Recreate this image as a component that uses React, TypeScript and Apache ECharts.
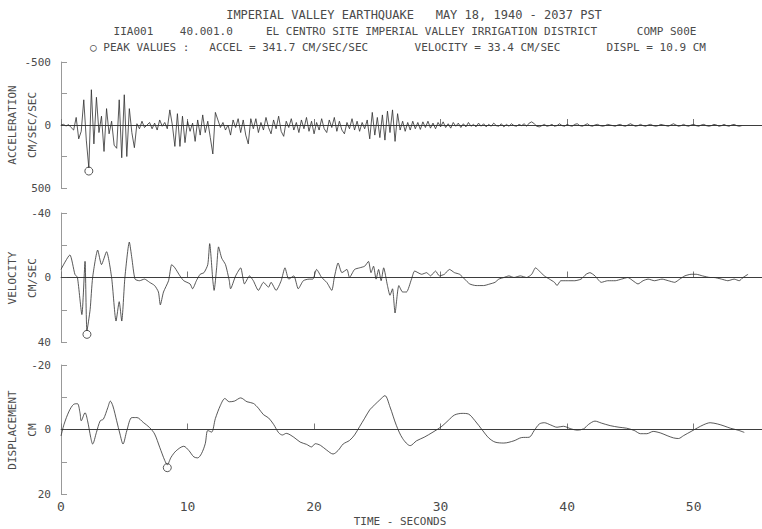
import { useEffect, useRef } from "react";
import * as echarts from "echarts";

// ---------- DATA ----------
const ACCEL_DT = 0.2; // seconds between acceleration readings
const accelValues = [
  0, -5, 8, -3, 20, 40, -60, 110, 50, -200,
  120, 340, -280, 150, -220, 60, -70, 210, -130, 70,
  -30, 160, 185, -200, 260, -240, 250, -130, 60, 180,
  -10, 30, -30, 20, 0, -20, 30, -15, 40, -40,
  10, -20, 30, -120, 0, 170, -90, 170, -70, 140,
  -30, 50, -15, 130, -40, 80, -80, 60, -30, 100,
  230, -100, -40, 20, -20, 40, 0, 80, -40, 20,
  -50, 60, -40, 80, 150, -50,
  30, -50, 60, -20, 40, -60, 20, 70, -40, 30,
  -70, 50, 90, -30, 20, -50, 40, -20, 60, -40,
  30, -60, 50, -30, 70, -20, 40, -50, 30, 60,
  -40, 20, -60, 50, -30, 40, 70, -20, 30, -50,
  40, -30, 50, -20, 30, -40, 110, -100, 80, -60,
  100, -80, 120, -110, 60, -120, 130, -90, 40, -30,
  50, -20, 40, -30, 30, -20, 35, -25, 20, -30,
  25, -15, 30, -20, 15, -25, 20, -10, 25, -20,
  10, -15, 20, -10, 15, -20, 10, -5, 15, -15,
  10, -10, 15, -5, 10, -15, 5, 10, -10, 15,
  -5, 10, -10, 5, 10, -5, 5, -10, 10, -15,
  -25, -10, 10, 15, 5, -5, 10, 5, -5, 10,
  5, -10, 5, 10, -5, 5, 10, -5, -10, 5,
  10, 0, -10, 5, 10, 0, -5, 5, 10, 5,
  -5, 0, 5, 10, 0, -5, 5, 10, 0, -10,
  0, 10, 5, -5, 5, 10, 0, -5, 5, 10,
  5, -5, 0, 5, 10, 0, -10, 0, 10, 5,
  -5, 5, 10, 0, -5, 5, 10, 0, -5, 5,
  10, 5, -5, 0, 10, 5, -5, 5, 10, 0,
  -5, 5, 10, 5,
];

const velTime = [
  0.0, 0.7, 1.1, 1.3, 1.65, 1.9, 2.05, 2.3, 2.5, 2.9,
  3.2, 3.6, 4.0, 4.35, 4.6, 4.8, 5.05, 5.4, 5.6, 5.85,
  6.2, 6.6, 7.0, 7.4, 7.7, 7.85, 8.1, 8.5, 8.75, 9.0,
  9.4, 9.7, 10.2, 10.4, 10.7, 11.0, 11.3, 11.6, 11.75, 12.0,
  12.1, 12.3, 12.45, 12.7, 13.0, 13.3, 13.4, 13.8, 14.2, 14.5,
  14.9, 15.2, 15.6, 16.0, 16.4, 16.6, 17.0, 17.4, 17.7, 18.0,
  18.4, 18.75, 19.15, 19.6, 19.9, 20.2, 20.6, 21.0, 21.4, 21.6,
  21.9, 22.2, 22.6, 22.8, 23.2, 23.6, 24.0, 24.3, 24.5, 24.7,
  24.9, 25.1, 25.3, 25.5, 25.8, 26.0, 26.2, 26.4, 26.7, 27.0,
  27.3, 27.7, 27.95, 28.5, 28.9, 29.2, 29.6, 29.9, 30.3, 30.7,
  31.1, 31.5, 31.9, 32.3, 32.8, 33.4, 33.9, 34.3, 34.6, 35.0,
  35.4, 35.8, 36.3, 36.8, 37.2, 37.5, 37.8, 38.2, 38.6, 39.0,
  39.2, 39.5, 40.0, 40.6, 41.1, 41.5, 41.8, 42.2, 42.7, 43.2,
  43.8, 44.3, 44.8, 45.2, 45.6, 46.0, 46.4, 46.9, 47.5, 48.0,
  48.5, 48.9, 49.3, 49.8, 50.2, 50.7, 51.3, 51.6, 52.2, 52.7,
  53.2, 53.6, 53.9, 54.3,
];
const velValues = [
  -5, -14, -2, 0, 23, -10, 33, 20, 0, -17,
  -8, -16, 0, 27, 15, 27, 0, -22, -12, 1,
  2, 1, 3, 5, 9, 17, 9, 2, -8, -6,
  -1, 2, 4, 7, 2, -2, -3, -8, -21, 2,
  8, -6, -19, -12, -8, 2, 7, -1, -6, 4,
  -1, 2, 8, 3, 6, 3, 8, 2, -6, 1,
  -1, 7, 2, 1, 1, -5, 0, 3, 8, 0,
  -9, -3, -5, 0, -5, -6, -7, -10, -3, -7,
  1, -5, 2, -6, 5, 11, 7, 22, 5, 9,
  9, 1, -4, -2, -3, -1, -4, -1, -2, -5,
  -3, -2, 1, 4, 5, 5, 4, 3, 1, 0,
  -1, 0, -1, 0, -2, -6, -4, -1, 1, 3,
  5, 2, 2, 2, 1, -2, -3, -1, 3, 2,
  2, 1, 0, 2, 4, 2, 1, 2, 1, 2,
  3, 1, -1, -2, -2, -1, 0, 0, 1, 2,
  1, 2, 0, -2,
];

const dispTime = [
  0.0, 0.24, 0.64, 1.0, 1.3, 1.5, 1.6, 1.9, 2.1, 2.35,
  2.5, 2.8, 3.1, 3.35, 3.7, 3.9, 4.1, 4.4, 4.66, 4.9,
  5.2, 5.6, 6.0, 6.5, 7.0, 7.4, 7.8, 8.2, 8.4, 8.7,
  9.1, 9.7, 10.1, 10.5, 10.8, 11.1, 11.4, 11.6, 11.9, 12.2,
  12.6, 12.95, 13.3, 13.7, 14.2, 14.7, 15.2, 15.6, 16.0, 16.4,
  16.8, 17.2, 17.5, 17.8, 18.4, 18.9, 19.4, 19.8, 20.1, 20.5,
  21.0, 21.5, 21.9, 22.3, 22.8, 23.2, 23.6, 24.0, 24.4, 24.8,
  25.2, 25.6, 26.0, 26.5, 27.0, 27.6, 28.1, 28.7, 29.4, 30.1,
  30.6, 31.1, 31.7, 32.2, 32.7, 33.3, 33.8, 34.3, 35.0, 35.8,
  36.4, 37.0, 37.4, 37.8, 38.2, 38.7, 39.2, 39.7, 40.3, 40.8,
  41.3, 41.7, 42.2, 42.7, 43.4, 44.1, 44.7, 45.3, 45.8, 46.3,
  46.8, 47.4, 47.9, 48.4, 48.8, 49.2, 49.8, 50.3, 50.8, 51.3,
  51.9, 52.4, 52.9, 53.5, 54.0,
];
const dispValues = [
  2, -1.6, -5.7, -7.8, -8, -5.2, -2.7, -5.2, -2.7, 2.5,
  4.5, 0.9, -2.7, -3.2, -6.8, -8.8, -7.3, -2.7, 1.4, 4.5,
  0.4, -3.7, -3.7, -2.2, -0.6, 1.4, 5.5, 9.6, 10.9, 8.6,
  6.6, 5.2, 6.5, 8.5, 8.8, 7.5, 4.4, 0.3, 0.8, -3.4,
  -7.5, -9.6, -8.6, -8.8, -9.8, -8.6, -8.1, -6.6, -4.6, -3.6,
  -1.6, 1.0, 1.7, 1.2, 2.4, 3.9, 4.6, 5.4, 4.4, 4.9,
  6.4, 7.6, 6.5, 4.5, 3.4, 1.7, -0.9, -3.5, -6.1, -7.7,
  -9.2, -10.5, -7, -1.3, 2.8, 5, 3.5, 2.4, 0.8, -1,
  -2.8, -4.5, -5, -4.8, -2.8, 0.2, 2.6, 3.9, 4.2, 3.5,
  2.5, 2.4, 0.3, -1.7, -2.1, -1.4, -0.7, -1, -0.2, 0.2,
  -0.2, -1.6, -2.6, -2, -1.2, -0.7, -0.4, 0.3, 1.3, 1.3,
  0.6, 1.1, 1.9, 2.6, 2.8, 1.9, 0.6, -0.5, -1.5, -2.1,
  -1.7, -1.1, -0.4, 0.2, 0.9,
];

const accelPeak = [2.2, 341.7];
const velPeak = [2.05, 33.4];
const dispPeak = [8.4, 10.9];

const accelRange = [-500, 500];
const velRange = [-40, 40];
const dispRange = [-20, 20];
const X_MAX = 55.4;

const titleLine1 = "IMPERIAL VALLEY EARTHQUAKE   MAY 18, 1940 - 2037 PST";
const titleLine2 = "IIA001    40.001.0     EL CENTRO SITE IMPERIAL VALLEY IRRIGATION DISTRICT      COMP S00E";
const titleLine3 = "\u25CB PEAK VALUES :   ACCEL = 341.7 CM/SEC/SEC       VELOCITY = 33.4 CM/SEC       DISPL = 10.9 CM";

// ---------- STYLE ----------
const FONT = '"DejaVu Sans Mono", "Liberation Mono", monospace';
const INK = "#2e2e2e";
const TXT = "#4a4a4a";
const AXIS = "#777";

const GRIDS = [
  { left: 61, top: 62, width: 701, height: 126 },
  { left: 61, top: 213, width: 701, height: 129 },
  { left: 61, top: 365, width: 701, height: 129 },
];

export default function App() {
  const ref = useRef<HTMLDivElement>(null);

  useEffect(() => {
    document.body.style.margin = "0";
    const chart = echarts.init(ref.current!, null, { renderer: "svg" });

    const ranges = [accelRange, velRange, dispRange];
    const xAxes = GRIDS.map((_, i) => ({
      type: "value",
      gridIndex: i,
      min: 0,
      max: X_MAX,
      interval: 10,
      axisLine: { show: true, lineStyle: { color: AXIS, width: 1 } },
      axisTick: { show: true, inside: true, length: 6, lineStyle: { color: AXIS } },
      axisLabel: {
        show: i === 2,
        showMaxLabel: false,
        color: TXT,
        fontFamily: FONT,
        fontSize: 13,
        margin: 6,
      },
      splitLine: { show: false },
    }));
    const yAxes = ranges.map((r, i) => ({
      type: "value",
      gridIndex: i,
      inverse: true,
      min: r[0],
      max: r[1],
      interval: r[1] / 2,
      axisLine: { show: true, lineStyle: { color: "#999", width: 1 } },
      axisTick: { show: true, inside: true, length: 6, lineStyle: { color: "#999" } },
      axisLabel: {
        color: TXT,
        fontFamily: FONT,
        fontSize: 11,
        margin: 10,
        formatter: (v: number) => (Math.abs(v) === r[1] / 2 ? "" : String(v)),
      },
      splitLine: { show: false },
    }));

    const zeroLine = {
      silent: true,
      symbol: ["none", "none"],
      label: { show: false },
      lineStyle: { color: INK, width: 0.8, type: "solid" },
      data: [{ yAxis: 0 }],
    };

    const traceStyle = { color: INK, width: 0.8 };
    const peakSeries = (i: number, p: number[]) => ({
      type: "scatter",
      xAxisIndex: i,
      yAxisIndex: i,
      symbol: "circle",
      symbolSize: 8,
      symbolOffset: [0, 3],
      itemStyle: { color: "rgba(0,0,0,0)", borderColor: INK, borderWidth: 1 },
      data: [p],
      silent: true,
    });

    const rotText = (x: number, y: number, text: string) => ({
      type: "text",
      x,
      y,
      rotation: Math.PI / 2,
      style: { text, fill: TXT, font: `11px ${FONT}`, align: "center", verticalAlign: "middle" },
    });

    chart.setOption({
      animation: false,
      grid: GRIDS,
      xAxis: xAxes,
      yAxis: yAxes,
      series: [
        {
          type: "line",
          xAxisIndex: 0,
          yAxisIndex: 0,
          showSymbol: false,
          lineStyle: traceStyle,
          data: accelValues.map((v, k) => [+(k * ACCEL_DT).toFixed(2), v]),
          markLine: zeroLine,
        },
        {
          type: "line",
          xAxisIndex: 1,
          yAxisIndex: 1,
          showSymbol: false,
          smooth: 0.2,
          lineStyle: traceStyle,
          data: velTime.map((t, k) => [t, velValues[k]]),
          markLine: zeroLine,
        },
        {
          type: "line",
          xAxisIndex: 2,
          yAxisIndex: 2,
          showSymbol: false,
          smooth: 0.3,
          lineStyle: traceStyle,
          data: dispTime.map((t, k) => [t, dispValues[k]]),
          markLine: zeroLine,
        },
        peakSeries(0, accelPeak),
        peakSeries(1, velPeak),
        peakSeries(2, dispPeak),
      ],
      graphic: [
        { type: "text", x: 414, y: 15, style: { text: titleLine1, fill: TXT, font: `12px ${FONT}`, align: "center", verticalAlign: "middle" } },
        { type: "text", x: 405, y: 31, style: { text: titleLine2, fill: TXT, font: `11px ${FONT}`, align: "center", verticalAlign: "middle" } },
        { type: "text", x: 398, y: 47, style: { text: titleLine3, fill: TXT, font: `11px ${FONT}`, align: "center", verticalAlign: "middle" } },
        rotText(12, 125, "ACCELERATION"),
        rotText(32, 125, "CM/SEC/SEC"),
        rotText(12, 278, "VELOCITY"),
        rotText(32, 278, "CM/SEC"),
        rotText(12, 430, "DISPLACEMENT"),
        rotText(32, 430, "CM"),
        { type: "text", x: 400, y: 521, style: { text: "TIME - SECONDS", fill: TXT, font: `11px ${FONT}`, align: "center", verticalAlign: "middle" } },
      ],
    });
    return () => chart.dispose();
  }, []);

  return <div ref={ref} style={{ width: 762, height: 529 }} />;
}
